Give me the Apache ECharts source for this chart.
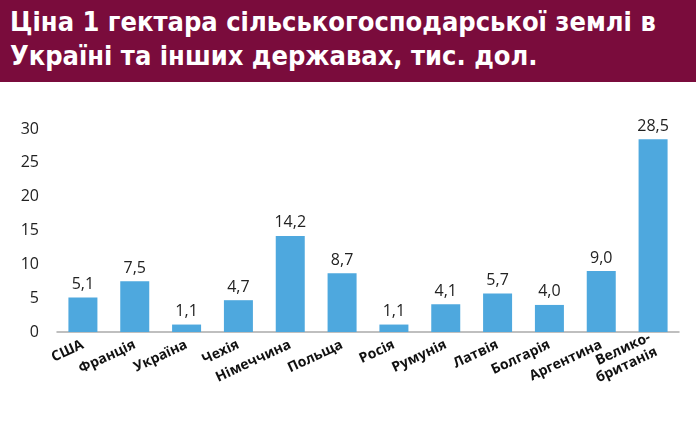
<!DOCTYPE html>
<html>
<head>
<meta charset="utf-8">
<script src="https://cdn.jsdelivr.net/npm/echarts@6/dist/echarts.min.js"></script>
<style>
  body { margin: 0; background: #fff; }
  #head { position: absolute; left: 0; top: 0; width: 696px; height: 82px; background: #7a0c3c;
    color: #fff; font: bold 27px "Liberation Sans Narrow", "DejaVu Sans Condensed", sans-serif; line-height: 34px; padding: 5px 0 0 10px; box-sizing: border-box; }
  #main { position: absolute; left: 0; top: 82px; width: 696px; height: 343px; }
</style>
</head>
<body>
<div id="head">Ціна 1 гектара сільськогосподарської землі в<br>Україні та інших державах, тис. дол.</div>
<div id="main"></div>
<script>
// країни та ціни, тис. дол. за гектар
const countries = ["США","Франція","Україна","Чехія","Німеччина","Польща","Росія","Румунія","Латвія","Болгарія","Аргентина","Велико-\nбританія"];
const prices = [5.1, 7.5, 1.1, 4.7, 14.2, 8.7, 1.1, 4.1, 5.7, 4.0, 9.0, 28.5];

let myChart = echarts.init(document.getElementById('main'));
let option = {
    animation: false,
    grid: {left: 57, right: 17, top: 47, bottom: 93},
    xAxis: {
        type: 'category',
        data: countries,
        axisTick: {show: false},
        axisLine: {lineStyle: {color: '#aaa', width: 1.5}},
        axisLabel: {
            rotate: 25, interval: 0, color: '#111', fontWeight: 'bold',
            fontFamily: 'Open Sans', fontSize: 14, lineHeight: 16, margin: 12
        }
    },
    yAxis: {
        type: 'value', min: 0, max: 30, interval: 5,
        splitLine: {show: false},
        axisLabel: {color: '#222', fontSize: 16, fontFamily: 'Open Sans', margin: 18}
    },
    series: [{
        type: 'bar',
        data: prices,
        barWidth: 29,
        itemStyle: {color: '#4ea8de'},
        label: {
            show: true, position: 'top', color: '#222', fontSize: 16, fontFamily: 'Open Sans',
            formatter: p => p.value.toFixed(1).replace('.', ',')
        }
    }]
};
myChart.setOption(option);
</script>
</body>
</html>
